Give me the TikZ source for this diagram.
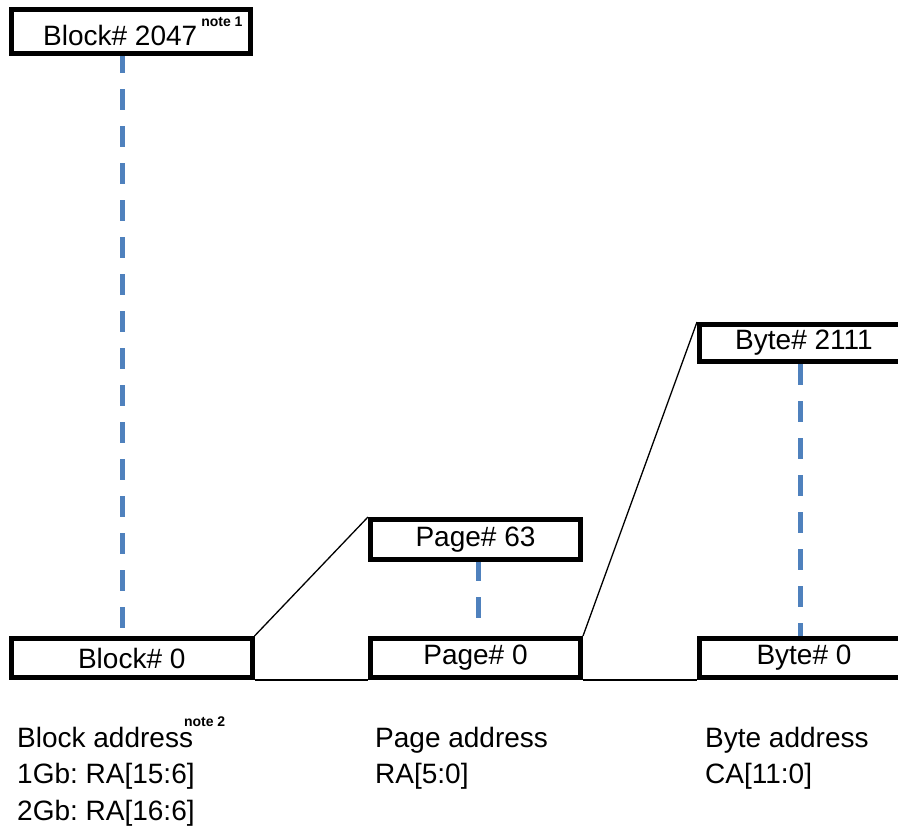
\documentclass[tikz,border=0pt]{standalone}
\usepackage{fontspec}
\setmainfont{Liberation Sans}
\frenchspacing
\definecolor{dashblue}{HTML}{4F81BD}
\newcommand\mynote[2][18pt]{\raisebox{#1}{\fontsize{14}{14}\selectfont\bfseries #2}}
\begin{document}
\begin{tikzpicture}[x=1pt,y=-1pt,
  addrbox/.style={draw=black,line width=5pt,fill=white,inner sep=0pt,
    font=\fontsize{28}{32}\selectfont},
  bluedash/.style={draw=dashblue,line width=5pt,dash pattern=on 21pt off 16pt},
  thinline/.style={draw=black,line width=1.3pt},
  lbl/.style={anchor=base west,inner sep=0pt,font=\fontsize{28}{32}\selectfont}]
\useasboundingbox (0,0) rectangle (898,830);
\clip (0,0) rectangle (898,830);
% dashed guides (drawn first, boxes cover their ends)
\coordinate (bd1) at (122.5,52);
\coordinate (bd2) at (122.5,636);
\coordinate (pd1) at (478.5,560);
\coordinate (pd2) at (478.5,620);
\coordinate (yd1) at (800,364);
\coordinate (yd2) at (800,637);
\draw[bluedash] (bd1) -- (bd2);
\draw[bluedash] (pd1) -- (pd2);
\draw[bluedash] (yd1) -- (yd2);
% boxes
\node[addrbox,minimum width=238.5pt,minimum height=44pt] (b2047) at (130.75,31.75) {};
\node[lbl] (b2047t) at (43,45) {Block\# 2047\hspace{4pt}\mynote[19pt]{note 1}};
\node[addrbox,minimum width=240.5pt,minimum height=39pt] (b0) at (131.75,658) {Block\# 0};
\node[addrbox,minimum width=210pt,minimum height=40pt] (p63) at (475.5,539.5) {Page\# 63};
\node[addrbox,minimum width=210pt,minimum height=39pt] (p0) at (475.5,658) {Page\# 0};
\node[addrbox,minimum width=209pt,minimum height=37pt] (y2111) at (804,343) {Byte\# 2111};
\node[addrbox,minimum width=209pt,minimum height=39pt] (y0) at (804,658) {Byte\# 0};
% connectors
\draw[thinline] (b0.north east) -- (p63.north west);
\draw[thinline] (p0.north east) -- (y2111.north west);
\draw[thinline] (b0.south east) -- (p0.south west);
\draw[thinline] (p0.south east) -- (y0.south west);
% address labels
\node[lbl] (blkaddr) at (17,747) {Block address\hspace{-9pt}\mynote[21pt]{note 2}};
\node[lbl] (blk1) at (17,783.5) {1Gb: RA[15:6]};
\node[lbl] (blk2) at (17,820) {2Gb: RA[16:6]};
\node[lbl] (pgaddr) at (375,747) {Page address};
\node[lbl] (pgra) at (375,783.5) {RA[5:0]};
\node[lbl] (byaddr) at (705,747) {Byte address};
\node[lbl] (byca) at (705,783.5) {CA[11:0]};
\end{tikzpicture}
\end{document}
